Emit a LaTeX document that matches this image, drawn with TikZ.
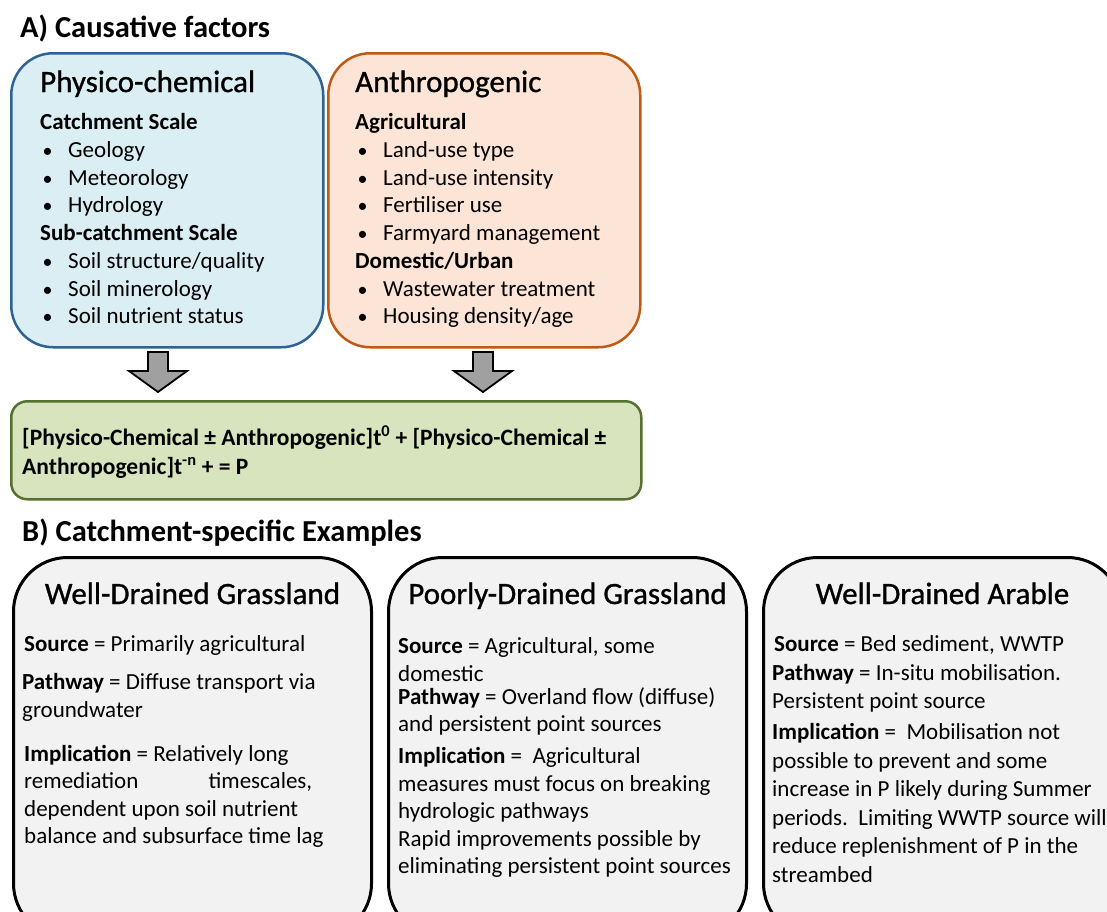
\documentclass[tikz,border=0pt]{standalone}
\usepackage{fontspec}
\setmainfont{Carlito}
\newfontfamily\headfont[FakeBold=0.9]{Carlito}
\usetikzlibrary{positioning,calc}

\definecolor{pcfill}{RGB}{218,238,243}
\definecolor{pcline}{RGB}{46,98,146}
\definecolor{anfill}{RGB}{252,229,214}
\definecolor{anline}{RGB}{190,90,20}
\definecolor{eqfill}{RGB}{215,228,189}
\definecolor{eqline}{RGB}{86,112,48}
\definecolor{exfill}{RGB}{242,242,242}
\definecolor{arrowgrey}{RGB}{160,160,160}

\newcommand\fs[2]{\fontsize{#1}{#2}\selectfont}
\newcommand\blt{\hspace*{2.5pt}\makebox[25.5pt][l]{\fs{20}{20}•}}

\begin{document}
\begin{tikzpicture}[x=1pt,y=-1pt,
	factorbox/.style={draw,line width=2.5pt,rounded corners=42pt,minimum width=312pt,minimum height=294pt,anchor=north west},
	examplebox/.style={draw=black,fill=exfill,line width=3pt,rounded corners=54pt,minimum width=358pt,minimum height=380pt,anchor=north west},
	boxhead/.style={font=\headfont\fs{31}{37},anchor=base west,inner sep=0pt},
	listtext/.style={font=\fs{23}{27.7},align=left,anchor=north west,inner sep=0pt},
	bodytext/.style={font=\fs{23}{27.5},align=left,anchor=north west,inner sep=0pt},
	parttitle/.style={font=\fs{30.5}{36}\bfseries,anchor=base west,inner sep=0pt},
	blockarrow/.style={draw=black,fill=arrowgrey,line width=1.8pt,line join=miter}]
	\clip (0,0) rectangle (1107,911);

	% part A
	\node[parttitle] (titlea) at (20,37) {A) Causative factors};
	\node[factorbox,fill=pcfill,draw=pcline] (pc) at (10,52) {};
	\node[factorbox,fill=anfill,draw=anline] (an) at (327,52) {};
	\node[boxhead] (pchead) at ($(pc.north west)+(30,40)$) {Physico-chemical};
	\node[boxhead] (anhead) at ($(an.north west)+(28,40)$) {Anthropogenic};
	\node[listtext] (pclist) at ($(pc.north west)+(30,61.5)$) {\textbf{Catchment Scale}\\
		\blt Geology\\
		\blt Meteorology\\
		\blt Hydrology\\
		\textbf{Sub-catchment Scale}\\
		\blt Soil structure/quality\\
		\blt Soil minerology\\
		\blt Soil nutrient status};
	\node[listtext] (anlist) at ($(an.north west)+(28,61.5)$) {\textbf{Agricultural}\\
		\blt Land-use type\\
		\blt Land-use intensity\\
		\blt Fertiliser use\\
		\blt Farmyard management\\
		\textbf{Domestic/Urban}\\
		\blt Wastewater treatment\\
		\blt Housing density/age};

	\node[draw=eqline,fill=eqfill,line width=2.5pt,rounded corners=16pt,minimum width=630pt,minimum height=98pt,anchor=north west] (eq) at (10,400) {};
	\node[font=\fs{23.5}{29}\bfseries,align=left,anchor=north west,inner sep=0pt] (eqtext) at ($(eq.north west)+(12,25.5)$)
		{[Physico-Chemical ± Anthropogenic]t\textsuperscript{0} + [Physico-Chemical ±\\
		Anthropogenic]t\textsuperscript{-n} + = P};

	% block arrows
	\coordinate (pcarrow) at (158,352);
	\coordinate (anarrow) at (483,352);
	\draw[blockarrow] (pcarrow) ++(-10,0) -- ++(20,0) -- ++(0,19) -- ++(19,0) -- ++(-29,21) -- ++(-29,-21) -- ++(19,0) -- cycle;
	\draw[blockarrow] (anarrow) ++(-10,0) -- ++(20,0) -- ++(0,19) -- ++(19,0) -- ++(-29,21) -- ++(-29,-21) -- ++(19,0) -- cycle;

	% part B
	\node[parttitle] (titleb) at (22,541) {B) Catchment-specific Examples};
	\node[examplebox] (wdg) at (12,556) {};
	\node[examplebox] (pdg) at (387,556) {};
	\node[examplebox] (wda) at (762,556) {};
	\node[font=\headfont\fs{31}{37},anchor=base,inner sep=0pt] (wdghead) at ($(wdg.north)+(0,48)$) {Well-Drained Grassland};
	\node[font=\headfont\fs{31}{37},anchor=base,inner sep=0pt] (pdghead) at ($(pdg.north)+(0,48)$) {Poorly-Drained Grassland};
	\node[font=\headfont\fs{31}{37},anchor=base,inner sep=0pt] (wdahead) at ($(wda.north)+(0,48)$) {Well-Drained Arable};

	\node[bodytext] (wdgtext) at ($(wdg.north west)+(10,79.5)$) {\hspace*{2pt}\textbf{Source} = Primarily agricultural\\[10.5pt]
		\textbf{Pathway} = Diffuse transport via\\
		groundwater\\[16.5pt]
		\hspace*{2pt}\textbf{Implication} = Relatively long\\
		\hspace*{2pt}\makebox[288pt]{remediation\hfill timescales,}\\
		\hspace*{2pt}dependent upon soil nutrient\\
		\hspace*{2pt}balance and subsurface time lag};
	\node[bodytext] (pdgtext) at ($(pdg.north west)+(11,81.5)$) {\textbf{Source} = Agricultural, some\\
		domestic\\[-4.5pt]
		\textbf{Pathway} = Overland flow (diffuse)\\
		and persistent point sources\\[4.5pt]
		\textbf{Implication} =\ \ Agricultural\\
		measures must focus on breaking\\
		hydrologic pathways\\
		Rapid improvements possible by\\
		eliminating persistent point sources};
	\node[bodytext,font=\fs{23}{28.5}] (wdatext) at ($(wda.north west)+(10,79.5)$) {\hspace*{2pt}\textbf{Source} = Bed sediment, WWTP\\
		\textbf{Pathway} = In-situ mobilisation.\\
		Persistent point source\\[2.5pt]
		\textbf{Implication} =\ \ Mobilisation not\\
		possible to prevent and some\\
		increase in P likely during Summer\\
		periods.\ \ Limiting WWTP source will\\
		reduce replenishment of P in the\\
		streambed};
\end{tikzpicture}
\end{document}
